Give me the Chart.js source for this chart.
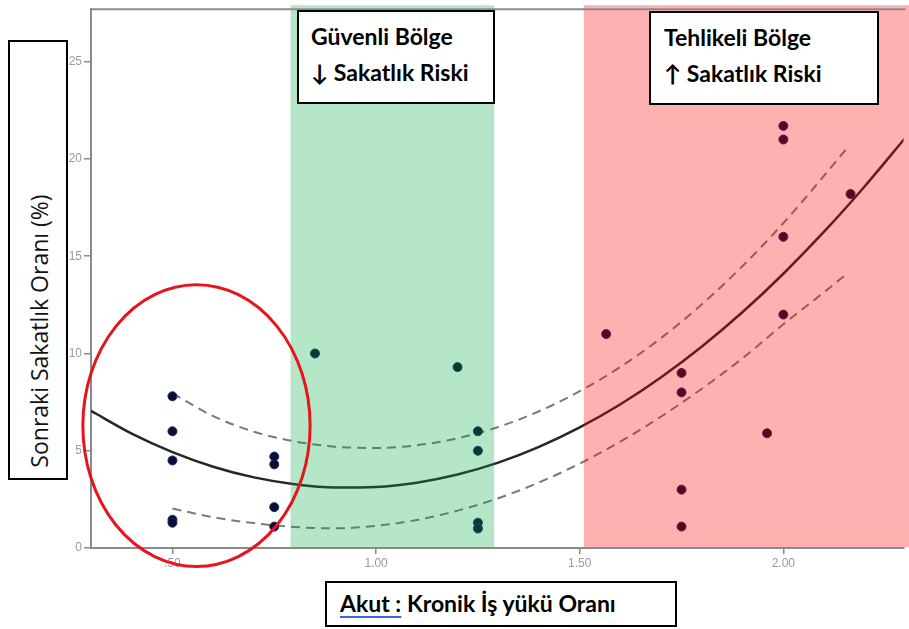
<!DOCTYPE html>
<html>
<head>
<meta charset="utf-8">
<script src="https://cdn.jsdelivr.net/npm/chart.js@4"></script>
<style>
  html, body { margin: 0; padding: 0; background: #fff; }
  #wrap { position: relative; width: 909px; height: 629px; overflow: hidden; }
  canvas { position: absolute; left: 0; top: 0; }
  .box { position: absolute; border: 2px solid #000; background: #fff; box-sizing: border-box; }
  .btxt { position: absolute; font-family: Lato, "Open Sans", sans-serif; font-weight: bold; font-size: 23px; color: #000; line-height: 36px; white-space: nowrap; }
  #ylab { position: absolute; left: 39px; top: 331px; transform: translate(-50%, -50%) rotate(-90deg); font-family: "Open Sans", sans-serif; font-size: 23px; color: #111; white-space: nowrap; }
  .u { text-decoration: underline; text-decoration-color: #3b63d8; text-decoration-thickness: 1.5px; text-underline-offset: 4px; }
</style>
</head>
<body>
<div id="wrap">
  <canvas id="c" width="909" height="629"></canvas>
  <div class="box" style="left:8px; top:40px; width:60px; height:440px;"></div>
  <div id="ylab">Sonraki Sakatlık Oranı (%)</div>
  <div class="box" style="left:297px; top:10px; width:198px; height:94px;"></div>
  <div class="btxt" style="left:311px; top:18px;">Güvenli Bölge<br>↓ Sakatlık Riski</div>
  <div class="box" style="left:649px; top:11px; width:230px; height:94px;"></div>
  <div class="btxt" style="left:664px; top:19px;">Tehlikeli Bölge<br>↑ Sakatlık Riski</div>
  <div class="box" style="left:325px; top:581px; width:352px; height:46px;"></div>
  <div class="btxt" style="left:340px; top:585px;"><span class="u">Akut :</span> Kronik İş yükü Oranı</div>
</div>
<script>
// ---- data ----
const pointX = [0.5, 0.5, 0.5, 0.5, 0.5, 0.75, 0.75, 0.75, 0.75,
                0.85, 1.2, 1.25, 1.25, 1.25, 1.25,
                1.565, 1.75, 1.75, 1.75, 1.75, 1.96, 2.0, 2.0, 2.0, 2.0, 2.165];
const pointY = [7.8, 6.0, 4.5, 1.45, 1.3, 4.7, 4.3, 2.1, 1.1,
                10.0, 9.3, 6.0, 5.0, 1.3, 1.0,
                11.0, 9.0, 8.0, 3.0, 1.1, 5.9, 21.7, 21.0, 16.0, 12.0, 18.2];

const fitX = [0.3, 0.4, 0.5, 0.6, 0.7, 0.8, 0.9, 1.0, 1.1, 1.2, 1.3, 1.4, 1.5, 1.6, 1.7, 1.8, 1.9, 2.0, 2.1, 2.2, 2.3];
const fitY = [7.05, 5.88, 4.93, 4.18, 3.63, 3.28, 3.11, 3.14, 3.36, 3.78, 4.39, 5.2, 6.2, 7.39, 8.78, 10.36, 12.13, 14.1, 16.26, 18.6, 21.1];

const upperX = [0.5, 0.6, 0.7, 0.8, 0.9, 1.0, 1.1, 1.2, 1.3, 1.4, 1.5, 1.6, 1.7, 1.8, 1.9, 2.0, 2.1, 2.16];
const upperY = [7.95, 6.78, 5.98, 5.48, 5.21, 5.14, 5.28, 5.64, 6.22, 7.03, 8.06, 9.31, 10.8, 12.53, 14.5, 16.7, 19.14, 20.65];

const lowerX = [0.5, 0.6, 0.7, 0.8, 0.9, 1.0, 1.1, 1.2, 1.3, 1.4, 1.5, 1.6, 1.7, 1.8, 1.9, 2.0, 2.1, 2.16];
const lowerY = [2.03, 1.58, 1.28, 1.08, 1.01, 1.14, 1.44, 1.92, 2.56, 3.37, 4.34, 5.47, 6.76, 8.19, 9.76, 11.5, 13.15, 14.17];

const xTickValues = [0.5, 1.0, 1.5, 2.0];
const xTickLabels = ['.50', '1.00', '1.50', '2.00'];
const yTickValues = [0, 5, 10, 15, 20, 25];
const yTickLabels = ['0', '5', '10', '15', '20', '25'];

const greenBand = [0.79, 1.29];
const redBand = [1.51, 2.4];
const ellipse = { cx: 0.559, cy: 6.29, rx: 0.279, ry: 7.24 };

const toXY = (xs, ys) => xs.map((x, i) => ({ x: x, y: ys[i] }));

const overlayPlugin = {
  id: 'overlay',
  afterDatasetsDraw(chart) {
    const { ctx, chartArea, scales } = chart;
    const xs = scales.x, ys = scales.y;
    ctx.save();
    const top = chartArea.top - 4, bot = chartArea.bottom - 1;
    ctx.fillStyle = 'rgba(0,169,66,0.29)';
    let x0 = xs.getPixelForValue(greenBand[0]), x1 = xs.getPixelForValue(greenBand[1]);
    ctx.fillRect(x0, top, x1 - x0, bot - top);
    ctx.fillStyle = 'rgba(255,0,0,0.31)';
    x0 = xs.getPixelForValue(redBand[0]); x1 = xs.getPixelForValue(redBand[1]);
    ctx.fillRect(x0, top, x1 - x0, bot - top);
    ctx.strokeStyle = '#8a8a8a';
    ctx.lineWidth = 2;
    ctx.beginPath();
    ctx.moveTo(chartArea.left, chartArea.top);
    ctx.lineTo(chartArea.right + 2, chartArea.top);
    ctx.stroke();
    const cx = xs.getPixelForValue(ellipse.cx), cy = ys.getPixelForValue(ellipse.cy);
    const rx = xs.getPixelForValue(ellipse.cx + ellipse.rx) - cx;
    const ry = cy - ys.getPixelForValue(ellipse.cy + ellipse.ry);
    ctx.strokeStyle = '#e8141c';
    ctx.lineWidth = 3;
    ctx.beginPath();
    ctx.ellipse(cx, cy, rx, ry, 0, 0, Math.PI * 2);
    ctx.stroke();
    ctx.restore();
  }
};

new Chart(document.getElementById('c'), {
  type: 'scatter',
  data: {
    datasets: [
      {
        type: 'line', label: 'upper', data: toXY(upperX, upperY),
        borderColor: '#7a7a7a', borderWidth: 2, borderDash: [9, 6],
        pointRadius: 0, cubicInterpolationMode: 'monotone', fill: false, order: 2
      },
      {
        type: 'line', label: 'lower', data: toXY(lowerX, lowerY),
        borderColor: '#7a7a7a', borderWidth: 2, borderDash: [9, 6],
        pointRadius: 0, cubicInterpolationMode: 'monotone', fill: false, order: 2
      },
      {
        type: 'line', label: 'fit', data: toXY(fitX, fitY),
        borderColor: '#262626', borderWidth: 2.5,
        pointRadius: 0, cubicInterpolationMode: 'monotone', fill: false, order: 1
      },
      {
        label: 'points', data: toXY(pointX, pointY),
        backgroundColor: '#0a0e30', borderColor: '#1c2a70', borderWidth: 1,
        pointRadius: 4.5, order: 0
      }
    ]
  },
  options: {
    responsive: false,
    animation: false,
    events: [],
    layout: { padding: { top: 9, right: 0, left: 0, bottom: 0 } },
    plugins: { legend: { display: false }, tooltip: { enabled: false } },
    scales: {
      x: {
        type: 'linear', min: 0.3, max: 2.295,
        afterFit: (s) => { s.height = 81; },
        afterBuildTicks: (s) => { s.ticks = xTickValues.map(v => ({ value: v })); },
        ticks: {
          color: '#9a9a9a', font: { family: 'Liberation Sans', size: 12 }, padding: 2,
          maxRotation: 0, autoSkip: false,
          callback: (v) => { const i = xTickValues.indexOf(v); return i >= 0 ? xTickLabels[i] : ''; }
        },
        grid: { drawOnChartArea: false, drawTicks: true, tickLength: 6, color: '#8a8a8a', lineWidth: 1.5 },
        border: { display: true, color: '#8a8a8a', width: 2 }
      },
      y: {
        type: 'linear', min: 0, max: 27.7,
        afterFit: (s) => { s.width = 91; },
        afterBuildTicks: (s) => { s.ticks = yTickValues.map(v => ({ value: v })); },
        ticks: {
          color: '#9a9a9a', font: { family: 'Liberation Sans', size: 12 }, padding: 2,
          autoSkip: false,
          callback: (v) => { const i = yTickValues.indexOf(v); return i >= 0 ? yTickLabels[i] : ''; }
        },
        grid: { drawOnChartArea: false, drawTicks: true, tickLength: 7, color: '#8a8a8a', lineWidth: 1.5 },
        border: { display: true, color: '#8a8a8a', width: 2 }
      }
    }
  },
  plugins: [overlayPlugin]
});
</script>
</body>
</html>
